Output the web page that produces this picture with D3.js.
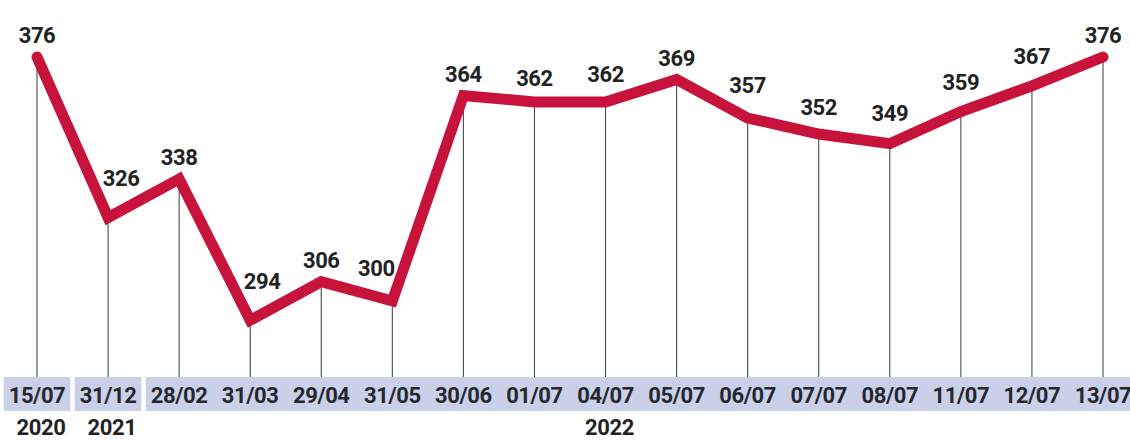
<!DOCTYPE html>
<html lang='en'>
<head>
    <meta charset='UTF-8'>
    <title>Chart</title>
    <style>
        body { margin: 0; background: #fff; }
        svg { display: block; font-family: Roboto, 'Noto Sans', sans-serif; }
        .drop { stroke: #4a4a4a; stroke-width: 1.1px; }
        .val { font-size: 22px; font-weight: 700; fill: #222; letter-spacing: -0.4px; }
        .date { font-size: 22px; font-weight: 700; fill: #262830; letter-spacing: -0.4px; }
        .year { font-size: 22px; font-weight: 700; fill: #222; letter-spacing: -0.4px; }
    </style>
</head>
<body>
    <div id="chart"></div>
    <script src='https://d3js.org/d3.v7.min.js'></script>
    <script>
        const dates = ['15/07', '31/12', '28/02', '31/03', '29/04', '31/05', '30/06', '01/07',
            '04/07', '05/07', '06/07', '07/07', '08/07', '11/07', '12/07', '13/07']
        const years = ['2020', '2021', '2022', '2022', '2022', '2022', '2022', '2022',
            '2022', '2022', '2022', '2022', '2022', '2022', '2022', '2022']
        const values = [376, 326, 338, 294, 306, 300, 364, 362, 362, 369, 357, 352, 349, 359, 367, 376]

        const width = 1130
        const height = 441
        const bandTop = 377
        const bandH = 34
        const lineColor = '#c7133c'

        const svg = d3.select('#chart').append('svg')
            .attr('width', width)
            .attr('height', height)

        const x = d3.scalePoint()
            .domain(d3.range(values.length))
            .range([37, 1103])

        const y = d3.scaleLinear()
            .domain([276, 376])
            .range([378, 57])

        // year bands go first so they sit under the date text
        const bandG = svg.append('g')
        const dropG = svg.append('g')
        const lineG = svg.append('g')
        const labelG = svg.append('g')
        const axisG = svg.append('g')

        dropG.selectAll('line')
            .data(values)
            .join('line')
            .attr('class', 'drop')
            .attr('x1', (_, i) => x(i))
            .attr('x2', (_, i) => x(i))
            .attr('y1', d => y(d))
            .attr('y2', bandTop)

        const line = d3.line()
            .x((_, i) => x(i))
            .y(d => y(d))

        lineG.append('path')
            .datum(values)
            .attr('d', line)
            .attr('fill', 'none')
            .attr('stroke', lineColor)
            .attr('stroke-width', 11)
            .attr('stroke-linecap', 'round')
            .attr('stroke-linejoin', 'miter')
            .attr('stroke-miterlimit', 2.5)

        // date labels
        const dateText = axisG.selectAll('text.date')
            .data(dates)
            .join('text')
            .attr('class', 'date')
            .attr('x', (_, i) => x(i))
            .attr('y', bandTop + 26)
            .attr('text-anchor', 'middle')
            .text(d => d)

        // group the dates by year -> one band per year
        const boxes = dateText.nodes().map(n => n.getBBox())
        const groups = d3.groups(d3.range(dates.length), i => years[i])

        bandG.selectAll('rect')
            .data(groups)
            .join('rect')
            .attr('x', ([, idx]) => Math.max(0, d3.min(idx, i => boxes[i].x) - 5))
            .attr('width', ([, idx]) => {
                const x0 = Math.max(0, d3.min(idx, i => boxes[i].x) - 5)
                const x1 = Math.min(width, d3.max(idx, i => boxes[i].x + boxes[i].width) + 5)
                return x1 - x0
            })
            .attr('y', bandTop)
            .attr('height', bandH)
            .attr('fill', '#c9d0e7')

        axisG.selectAll('text.year')
            .data(groups)
            .join('text')
            .attr('class', 'year')
            .attr('x', ([, idx]) => x(idx[Math.floor((idx.length - 1) / 2)]) + 4)
            .attr('y', 435)
            .attr('text-anchor', 'middle')
            .text(([yr]) => yr)

        // y of the drawn line at pixel px
        function lineYAt(px) {
            const n = values.length
            if (px <= x(0)) return y(values[0])
            if (px >= x(n - 1)) return y(values[n - 1])
            for (let i = 0; i < n - 1; i++) {
                const a = x(i), b = x(i + 1)
                if (px >= a && px <= b) {
                    const t = (px - a) / (b - a)
                    return y(values[i]) + t * (y(values[i + 1]) - y(values[i]))
                }
            }
        }

        // value labels, nudged sideways to sit as low as the line allows
        const valText = labelG.selectAll('text')
            .data(values)
            .join('text')
            .attr('class', 'val')
            .attr('text-anchor', 'middle')
            .text(d => d)

        valText.each(function (d, i) {
            const w = this.getComputedTextLength()
            const px = x(i)
            let best = null
            for (let dx = -18; dx <= 18; dx++) {
                let minY = Infinity
                for (let s = px + dx - w / 2 - 2; s <= px + dx + w / 2 + 2; s++) {
                    minY = Math.min(minY, lineYAt(s))
                }
                const base = Math.min(minY - 14, y(d) - 12)
                const score = base - 0.6 * Math.abs(dx)
                if (!best || score > best.score) best = { score, dx, base }
            }
            d3.select(this)
                .attr('x', px + best.dx)
                .attr('y', best.base)
        })
    </script>
</body>
</html>
